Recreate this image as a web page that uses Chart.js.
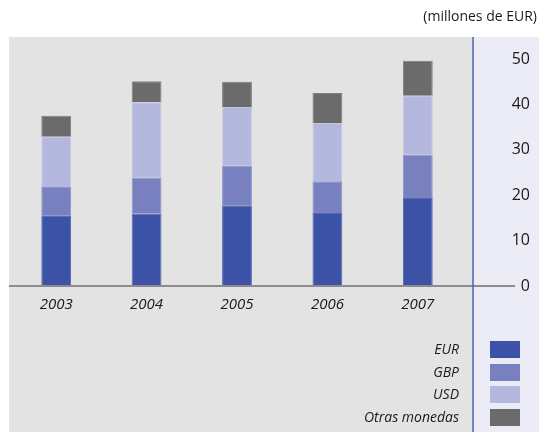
<!DOCTYPE html>
<html>
<head>
<meta charset="utf-8">
<script src="https://cdn.jsdelivr.net/npm/chart.js@4/dist/chart.umd.min.js"></script>
<style>
  html, body { margin: 0; padding: 0; background: #ffffff; }
  #wrap { position: relative; width: 539px; height: 432px; font-family: "Open Sans", sans-serif; color: #1a1a1a; }
  #unit { position: absolute; right: 2px; top: 6px; font-size: 14px; }
  #legend { position: absolute; left: 0; top: 338px; width: 539px; }
  .row { position: relative; height: 22.7px; }
  .row span { position: absolute; right: 80px; top: 1px; font-style: italic; font-size: 14px; }
  .row i { position: absolute; left: 490px; top: 3px; width: 30px; height: 17px; }
</style>
</head>
<body>
<div id="wrap">
  <canvas id="chart"></canvas>
  <div id="unit">(millones de EUR)</div>
  <div id="legend"></div>
</div>
<script>
// --- Data ---
const years = ['2003', '2004', '2005', '2006', '2007'];
const eurValues = [15.6, 15.9, 17.8, 16.1, 19.4];
const gbpValues = [6.2, 8.0, 8.7, 7.0, 9.5];
const usdValues = [11.1, 16.6, 12.9, 12.8, 13.0];
const otherValues = [4.6, 4.6, 5.6, 6.6, 7.7];

const seriesNames = ['EUR', 'GBP', 'USD', 'Otras monedas'];
const seriesColors = ['#3b52a7', '#7880c0', '#b5b8de', '#6b6b6b'];
const seriesBorders = ['#5568b2', '#8c93c9', '#c4c6e4', '#7e7e7e'];

// fondo gris + panel lila + linea azul + linea del cero
const panelPlugin = {
  id: 'panels',
  beforeDraw(chart) {
    const ctx = chart.ctx;
    const area = chart.chartArea;
    const sepX = area.right + 10;
    ctx.save();
    ctx.fillStyle = '#e3e3e3';
    ctx.fillRect(area.left - 2, 37, sepX - (area.left - 2), chart.height - 37);
    ctx.fillStyle = '#ececf6';
    ctx.fillRect(sepX, 37, chart.width - sepX, chart.height - 37);
    ctx.restore();
  },
  afterDatasetsDraw(chart) {
    const ctx = chart.ctx;
    const area = chart.chartArea;
    const sepX = area.right + 10;
    const y0 = chart.scales.y.getPixelForValue(0);
    ctx.save();
    ctx.strokeStyle = '#8c8c8c';
    ctx.lineWidth = 2;
    ctx.beginPath();
    ctx.moveTo(area.left - 2, y0);
    ctx.lineTo(sepX + 42, y0);
    ctx.stroke();
    ctx.strokeStyle = '#4f5fae';
    ctx.lineWidth = 1.5;
    ctx.beginPath();
    ctx.moveTo(sepX, 37);
    ctx.lineTo(sepX, chart.height);
    ctx.stroke();
    ctx.restore();
  }
};

const valueSets = [eurValues, gbpValues, usdValues, otherValues];
const datasets = seriesNames.map((name, i) => ({
  label: name,
  data: valueSets[i],
  backgroundColor: seriesColors[i],
  borderColor: seriesBorders[i],
  borderWidth: 1,
  categoryPercentage: 1,
  barPercentage: 0.33
}));

new Chart(document.getElementById('chart'), {
  type: 'bar',
  data: { labels: years, datasets: datasets },
  options: {
    responsive: true,
    maintainAspectRatio: false,
    animation: false,
    layout: { padding: { left: 11, right: 9, top: 59, bottom: 0 } },
    plugins: { legend: { display: false }, tooltip: { enabled: false } },
    scales: {
      x: {
        stacked: true,
        grid: { display: false },
        border: { display: false },
        ticks: { color: '#1a1a1a', padding: 2, font: { family: 'Open Sans', size: 15, style: 'italic' } },
        afterFit: (scale) => { scale.height = 146; }
      },
      y: {
        stacked: true,
        position: 'right',
        min: 0,
        max: 50,
        grid: { display: false },
        border: { display: false },
        ticks: {
          stepSize: 10,
          crossAlign: 'far',
          color: '#1a1a1a',
          font: { family: 'Open Sans', size: 16 }
        },
        afterFit: (scale) => { scale.width = 67; }
      }
    }
  },
  plugins: [panelPlugin]
});

// leyenda a mano: texto a la izquierda, cuadro a la derecha
const legendEl = document.getElementById('legend');
seriesNames.forEach((name, i) => {
  const row = document.createElement('div');
  row.className = 'row';
  row.innerHTML = '<span>' + name + '</span><i style="background:' + seriesColors[i] + '"></i>';
  legendEl.appendChild(row);
});
</script>
</body>
</html>
